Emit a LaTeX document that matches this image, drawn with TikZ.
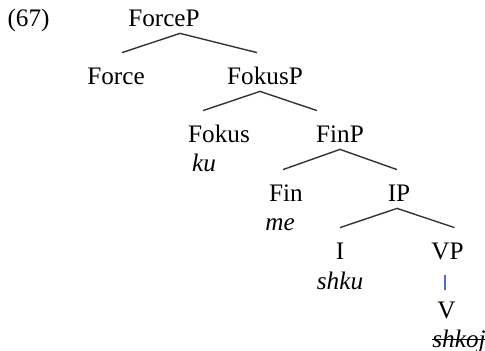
\documentclass[tikz,border=0pt]{standalone}
\usepackage{fontspec}
\setmainfont{Liberation Serif}
\definecolor{vpblue}{RGB}{68,114,196}
\begin{document}
\begin{tikzpicture}[x=0.5pt,y=-0.5pt]
     % styles for the tree
\tikzset{cat/.style={anchor=base,inner sep=0pt,text height=16pt,text depth=3pt,font=\fontsize{12.6}{15}\selectfont}}
\tikzset{word/.style={anchor=base,inner sep=0pt,font=\fontsize{12.6}{15}\selectfont\itshape}}
\tikzset{branch/.style={line width=0.7pt,color=black!80}}
\useasboundingbox (0,0) rectangle (485,351);
% the example number
\node (num) at (28.5,27) [cat] {(67)};
% the categories
\node (forceP) at (164,27) [cat] {ForceP};
\node (force) at (116,85) [cat] {Force};
\node (fokusP) at (265,85) [cat] {FokusP};
\node (fokus) at (219,143) [cat] {Fokus};
\node (finP) at (340,143) [cat] {FinP};
\node (fin) at (286,202) [cat] {Fin};
\node (iP) at (399,202) [cat] {IP};
\node (i) at (340,260) [cat] {I};
\node (vP) at (447.5,260) [cat] {VP};
\node (v) at (446.5,318) [cat] {V};
% the words
\node (ku) at (204,172) [word] {ku};
\node (me) at (280,231) [word] {me};
\node (shku) at (340,289) [word] {shku};
\node (shkoj) at (459,347) [word] {shkoj};
\draw [line width=0.5pt] ([yshift=4pt]shkoj.base west) -- ([yshift=4pt]shkoj.base east); % struck out
% the branches
\draw [branch] ([xshift=8pt]forceP.south) -- ([xshift=3pt]force.north);
\draw [branch] ([xshift=8pt]forceP.south) -- ([xshift=-4pt]fokusP.north);
\draw [branch] ([xshift=-2.5pt]fokusP.south) -- ([xshift=-8pt]fokus.north);
\draw [branch] ([xshift=-2.5pt]fokusP.south) -- ([xshift=-11.5pt]finP.north);
\draw [branch] (finP.south) -- ([xshift=-1.5pt]fin.north);
\draw [branch] (finP.south) -- ([xshift=-1pt]iP.north);
\draw [branch] ([xshift=-1pt]iP.south) -- (i.north);
\draw [branch] ([xshift=-1pt]iP.south) -- ([xshift=3.5pt]vP.north);
\draw [line width=0.8pt,vpblue] ([xshift=-1.25pt,yshift=-4.5pt]vP.south) -- ([xshift=-0.75pt,yshift=-2pt]v.north);
\end{tikzpicture}
\end{document}
